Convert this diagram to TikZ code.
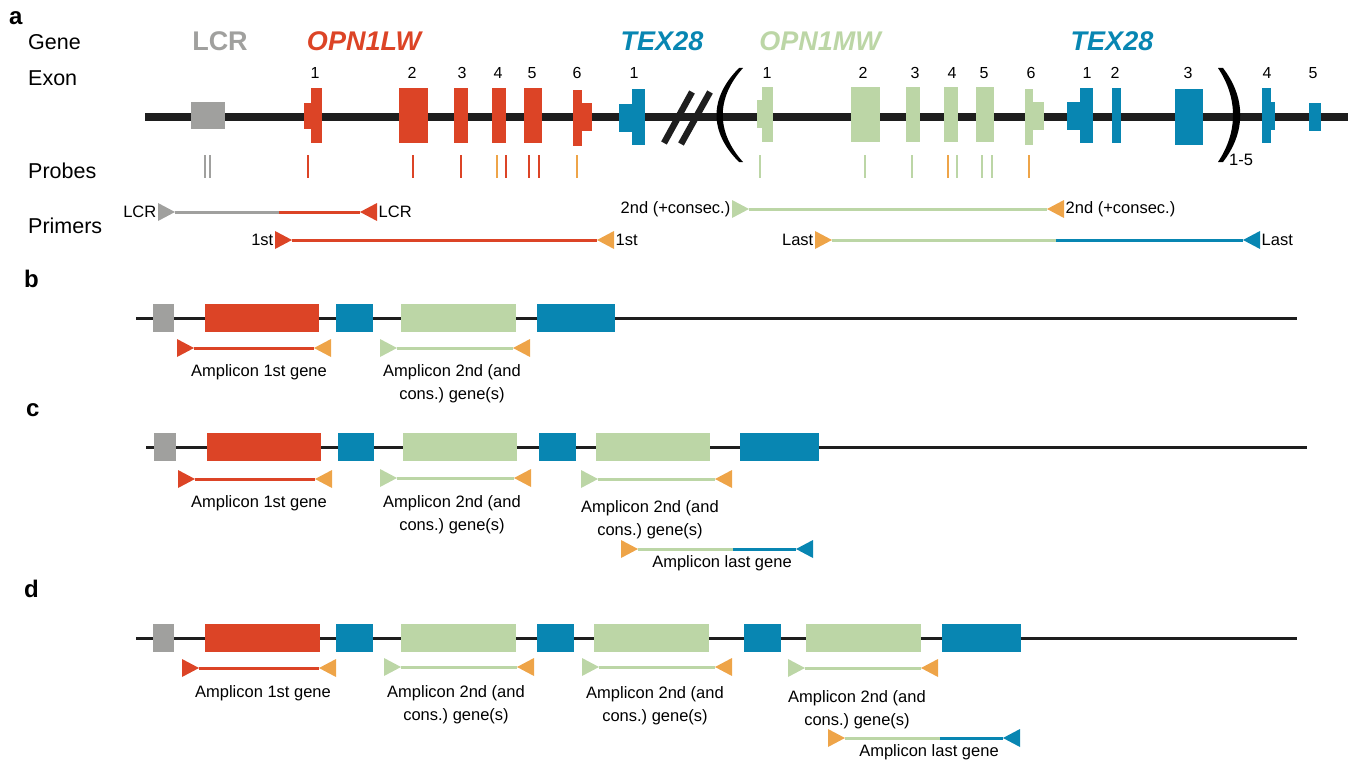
\documentclass[tikz,border=0pt]{standalone}
\usepackage{fontspec}
\setmainfont{Liberation Sans}
\usetikzlibrary{arrows.meta}
\frenchspacing

\definecolor{lcrgray}{RGB}{160,160,158}
\definecolor{lwred}{RGB}{220,68,38}
\definecolor{texblue}{RGB}{8,134,178}
\definecolor{mwgreen}{RGB}{188,214,166}
\definecolor{primorange}{RGB}{238,164,72}
\definecolor{dna}{RGB}{30,30,30}

\tikzset{
    every node/.style={inner sep=0pt},
    primer/.tip={Triangle[reversed,length=17pt,width=18pt,line width=0pt]},
    rowlabel/.style={anchor=base west,font=\fontsize{21.5}{24}\selectfont},
    genename/.style={anchor=base,font=\fontsize{27}{30}\selectfont\bfseries\itshape},
    exonnum/.style={anchor=base,font=\fontsize{16}{18}\selectfont},
    small/.style={font=\fontsize{16.5}{23.5}\selectfont\frenchspacing,inner xsep=1.5pt},
    amplabel/.style={small,anchor=north,align=center},
    panel/.style={anchor=base west,font=\fontsize{24}{28}\selectfont\bfseries},
    probe/.style={line width=2pt},
    prim/.style={line width=3pt},
    thinline/.style={dna,line width=3pt},
}

\begin{document}
\begin{tikzpicture}[x=1pt,y=-1pt]
    \useasboundingbox (0,0) rectangle (1358,760);

    %%% a
    \node[panel] (pa) at (9,25) {a};
    \node[rowlabel] (rgene) at (28,50) {Gene};
    \node[rowlabel] (rexon) at (28,85) {Exon};
    \node[rowlabel] (rprobes) at (28,178) {Probes};
    \node[rowlabel] (rprimers) at (28,233) {Primers};

    \node[genename,lcrgray,font=\fontsize{27}{30}\selectfont\bfseries] (glcr) at (220,51) {LCR};
    \node[genename,lwred] (glw) at (364,51) {OPN1LW};
    \node[genename,texblue] (gtexa) at (662,51) {TEX28};
    \node[genename,mwgreen] (gmw) at (820,51) {OPN1MW};
    \node[genename,texblue] (gtexb) at (1112,51) {TEX28};

    \draw[dna,line width=8pt] (145,117) -- (1348,117);

    % exons
    \fill[lcrgray] (191,102) rectangle (225,129);
    \fill[lwred] (304,103) rectangle (311,129);
    \fill[lwred] (311,88) rectangle (322,143);
    \foreach \xa/\xb in {399/428,454/468,492/506,524/542}
        \fill[lwred] (\xa,88) rectangle (\xb,143);
    \fill[lwred] (573,90) rectangle (582,146);
    \fill[lwred] (582,103) rectangle (592,131);
    \fill[texblue] (619,104) rectangle (632,132);
    \fill[texblue] (632,89) rectangle (645,145);

    \fill[mwgreen] (757,100) rectangle (762,128);
    \fill[mwgreen] (762,87) rectangle (773,142);
    \foreach \xa/\xb in {851/880,906/920,944/958,976/994}
        \fill[mwgreen] (\xa,87) rectangle (\xb,142);
    \fill[mwgreen] (1025,89) rectangle (1033,145);
    \fill[mwgreen] (1033,102) rectangle (1044,130);
    \fill[texblue] (1067,102) rectangle (1080,130);
    \fill[texblue] (1080,88) rectangle (1093,143);
    \fill[texblue] (1112,88) rectangle (1121,143);
    \fill[texblue] (1175,89) rectangle (1203,145);
    \fill[texblue] (1262,88) rectangle (1271,143);
    \fill[texblue] (1271,102) rectangle (1275,130);
    \fill[texblue] (1309,103) rectangle (1321,131);

    \foreach \x/\n [count=\i] in {315/1,412/2,462/3,498/4,532/5,577/6,634/1,
        767/1,863/2,915/3,952/4,984/5,1031/6,1087/1,1115/2,1188/3,1267/4,1313/5}
        \node[exonnum] (en\i) at (\x,79) {\n};

    % break and repeat
    \draw[dna,line width=6.4pt] (664,143) -- (692,92);
    \draw[dna,line width=6.4pt] (681,144) -- (710,92);
    \fill[black] (739,68) .. controls (709,98) and (709,132) .. (739,162)
        -- (743,162) .. controls (716,132) and (716,98) .. (743,68) -- cycle;
    \fill[black] (1223,68) .. controls (1246,98) and (1246,132) .. (1223,162)
        -- (1218,162) .. controls (1238,132) and (1238,98) .. (1218,68) -- cycle;
    \node[small,anchor=center] (rep) at (1241,160) {1-5};

    % probes
    \foreach \x in {205,210}
        \draw[probe,lcrgray] (\x,155) -- (\x,178);
    \foreach \x in {308,413,461,506,529,539}
        \draw[probe,lwred] (\x,155) -- (\x,178);
    \foreach \x in {760,865,912,957,982,992}
        \draw[probe,mwgreen] (\x,155) -- (\x,178);
    \foreach \x in {497,577,948,1029}
        \draw[probe,primorange] (\x,155) -- (\x,178);

    % primers
    \coordinate (lcrs) at (158,212);
    \coordinate (lcrm) at (279,212);
    \coordinate (lcre) at (377,212);
    \node[small,anchor=east] (lcrl) at (lcrs) {LCR};
    \node[small,anchor=west] (lcrr) at (lcre) {LCR};
    \draw[prim,lcrgray,{primer[color=lcrgray]}-] (lcrs) -- (lcrm);
    \draw[prim,lwred,-{primer[color=lwred]}] (lcrm) -- (lcre);

    \coordinate (fsts) at (275,240);
    \coordinate (fste) at (614,240);
    \node[small,anchor=east] (fstl) at (fsts) {1st};
    \node[small,anchor=west] (fstr) at (fste) {1st};
    \draw[prim,lwred,{primer[color=lwred]}-{primer[color=primorange]}] (fsts) -- (fste);

    \coordinate (snds) at (732,209);
    \coordinate (snde) at (1064,209);
    \node[small,anchor=east] (sndl) at (snds) {2nd (+consec.)};
    \node[small,anchor=west] (sndr) at (snde) {2nd (+consec.)};
    \draw[prim,mwgreen,{primer[color=mwgreen]}-{primer[color=primorange]}] (snds) -- (snde);

    \coordinate (lsts) at (815,240);
    \coordinate (lstm) at (1056,240);
    \coordinate (lste) at (1260,240);
    \node[small,anchor=east] (lstl) at (lsts) {Last};
    \node[small,anchor=west] (lstr) at (lste) {Last};
    \draw[prim,mwgreen,{primer[color=primorange]}-] (lsts) -- (lstm);
    \draw[prim,texblue,-{primer[color=texblue]}] (lstm) -- (lste);

    %%% b
    \node[panel] (pb) at (24,287) {b};
    \draw[thinline] (136,318) -- (1297,318);
    \foreach \xa/\xb/\c in {153/174/lcrgray,205/319/lwred,336/373/texblue,
        401/516/mwgreen,537/615/texblue}
        \fill[\c] (\xa,304) rectangle (\xb,332);

    \draw[prim,lwred,{primer[color=lwred]}-{primer[color=primorange]}] (177,348) coordinate (b1s) -- (331,348) coordinate (b1e);
    \draw[prim,mwgreen,{primer[color=mwgreen]}-{primer[color=primorange]}] (380,348) coordinate (b2s) -- (530,348) coordinate (b2e);
    \node[amplabel] (b1l) at (259,364) {Amplicon 1st gene};
    \node[amplabel] (b2l) at (452,364) {Amplicon 2nd (and\\cons.) gene(s)};

    %%% c
    \node[panel] (pc) at (26,416) {c};
    \draw[thinline] (146,447) -- (1307,447);
    \foreach \xa/\xb/\c in {154/176/lcrgray,207/321/lwred,338/374/texblue,
        403/517/mwgreen,539/576/texblue,596/710/mwgreen,740/819/texblue}
        \fill[\c] (\xa,433) rectangle (\xb,461);

    \draw[prim,lwred,{primer[color=lwred]}-{primer[color=primorange]}] (178,479) coordinate (c1s) -- (332,479) coordinate (c1e);
    \draw[prim,mwgreen,{primer[color=mwgreen]}-{primer[color=primorange]}] (380,478) coordinate (c2s) -- (531,478) coordinate (c2e);
    \draw[prim,mwgreen,{primer[color=mwgreen]}-{primer[color=primorange]}] (581,479) coordinate (c3s) -- (732,479) coordinate (c3e);
    \draw[prim,mwgreen,{primer[color=primorange]}-] (621,549) coordinate (c4s) -- (733,549) coordinate (c4m);
    \draw[prim,texblue,-{primer[color=texblue]}] (c4m) -- (813,549) coordinate (c4e);
    \node[amplabel] (c1l) at (259,495) {Amplicon 1st gene};
    \node[amplabel] (c2l) at (452,495) {Amplicon 2nd (and\\cons.) gene(s)};
    \node[amplabel] (c3l) at (650,500) {Amplicon 2nd (and\\cons.) gene(s)};
    \node[amplabel] (c4l) at (722,555) {Amplicon last gene};

    %%% d
    \node[panel] (pd) at (24,597) {d};
    \draw[thinline] (136,638) -- (1297,638);
    \foreach \xa/\xb/\c in {153/174/lcrgray,205/320/lwred,336/373/texblue,
        401/516/mwgreen,537/574/texblue,594/709/mwgreen,744/781/texblue,
        806/921/mwgreen,942/1021/texblue}
        \fill[\c] (\xa,624) rectangle (\xb,652);

    \draw[prim,lwred,{primer[color=lwred]}-{primer[color=primorange]}] (182,668) coordinate (d1s) -- (336,668) coordinate (d1e);
    \draw[prim,mwgreen,{primer[color=mwgreen]}-{primer[color=primorange]}] (384,667) coordinate (d2s) -- (534,667) coordinate (d2e);
    \draw[prim,mwgreen,{primer[color=mwgreen]}-{primer[color=primorange]}] (582,667) coordinate (d3s) -- (732,667) coordinate (d3e);
    \draw[prim,mwgreen,{primer[color=mwgreen]}-{primer[color=primorange]}] (788,668) coordinate (d4s) -- (938,668) coordinate (d4e);
    \draw[prim,mwgreen,{primer[color=primorange]}-] (828,738) coordinate (d5s) -- (940,738) coordinate (d5m);
    \draw[prim,texblue,-{primer[color=texblue]}] (d5m) -- (1020,738) coordinate (d5e);
    \node[amplabel] (d1l) at (263,685) {Amplicon 1st gene};
    \node[amplabel] (d2l) at (456,685) {Amplicon 2nd (and\\cons.) gene(s)};
    \node[amplabel] (d3l) at (655,686) {Amplicon 2nd (and\\cons.) gene(s)};
    \node[amplabel] (d4l) at (857,690) {Amplicon 2nd (and\\cons.) gene(s)};
    \node[amplabel] (d5l) at (929,744) {Amplicon last gene};

\end{tikzpicture}
\end{document}
